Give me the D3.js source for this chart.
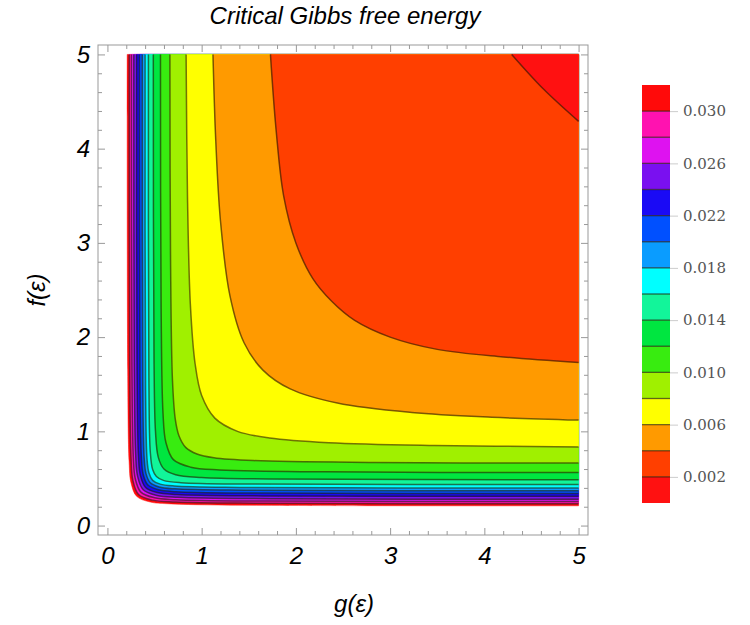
<!DOCTYPE html>
<html><head><meta charset="utf-8">
<script src="https://cdn.jsdelivr.net/npm/d3@7"></script>
<style>body{margin:0;background:#fff}</style>
</head><body>
<svg id="chart" width="750" height="625"></svg>
<script>
// contour levels (upper bound of each band)
const levels = [0.002,0.004,0.006,0.008,0.010,0.012,0.014,0.016,0.018,0.020,0.022,0.024,0.026,0.028,0.030,0.032];
// band colours, band i = [levels[i]-0.002, levels[i]]
const bandColors = ["#ff1111","#ff3f00","#ff9a00","#ffff00","#a0f000","#38ec10","#00e640","#12f59a","#00ffff","#0a9cff","#0050ff","#1a0af5","#7a10f0","#de12f0","#ff12b0","#ff0a0a"];
// contour lines, points (g, f)
const c002 = [[4.29,5],[4.63,4.63],[5,4.29]];
const c004 = [[1.73,5],[1.79,4.2],[1.87,3.5],[2.0,3.0],[2.18,2.62],[2.38,2.38],[2.62,2.18],[3.0,2.0],[3.5,1.87],[4.2,1.79],[5,1.73]];
const c006 = [[1.12,5],[1.15,4.08],[1.2,3.23],[1.3,2.44],[1.45,1.94],[1.65,1.65],[1.94,1.45],[2.44,1.3],[3.23,1.2],[4.08,1.15],[5,1.12]];
const c008 = [[0.835,5],[0.85,3.47],[0.88,2.35],[0.93,1.72],[1.0,1.38],[1.14,1.14],[1.38,1.0],[1.72,0.93],[2.35,0.88],[3.47,0.85],[5,0.835]];
const c010 = [[0.663,5],[0.67,2.82],[0.69,1.55],[0.72,1.13],[0.76,0.95],[0.83,0.83],[0.95,0.76],[1.13,0.72],[1.55,0.69],[2.82,0.67],[5,0.663]];
const c012 = [[0.563,5],[0.57,2.3],[0.59,1.19],[0.62,0.884],[0.70,0.70],[0.884,0.62],[1.19,0.59],[2.3,0.57],[5,0.563]];
const c014 = [[0.487,5],[0.495,1.71],[0.51,1.0],[0.54,0.724],[0.6,0.6],[0.724,0.54],[1.0,0.51],[1.71,0.495],[5,0.487]];
const c016 = [[0.435,5],[0.44,1.57],[0.455,0.78],[0.48,0.594],[0.52,0.52],[0.594,0.48],[0.78,0.455],[1.57,0.44],[5,0.435]];
const c018 = [[0.40,5],[0.405,1.44],[0.42,0.71],[0.44,0.56],[0.48,0.48],[0.56,0.44],[0.71,0.42],[1.44,0.405],[5,0.40]];
const c020 = [[0.37,5],[0.375,1.5],[0.39,0.716],[0.41,0.549],[0.455,0.455],[0.549,0.41],[0.716,0.39],[1.5,0.375],[5,0.37]];
const c022 = [[0.34,5],[0.345,1.58],[0.36,0.727],[0.38,0.54],[0.43,0.43],[0.54,0.38],[0.727,0.36],[1.58,0.345],[5,0.34]];
const c024 = [[0.31,5],[0.315,1.65],[0.33,0.735],[0.35,0.532],[0.405,0.405],[0.532,0.35],[0.735,0.33],[1.65,0.315],[5,0.31]];
const c026 = [[0.28,5],[0.285,1.73],[0.30,0.749],[0.32,0.525],[0.38,0.38],[0.525,0.32],[0.749,0.30],[1.73,0.285],[5,0.28]];
const c028 = [[0.255,5],[0.26,1.70],[0.275,0.724],[0.295,0.50],[0.355,0.355],[0.50,0.295],[0.724,0.275],[1.70,0.26],[5,0.255]];
const c030 = [[0.232,5],[0.237,1.64],[0.25,0.727],[0.27,0.479],[0.33,0.33],[0.479,0.27],[0.727,0.25],[1.64,0.237],[5,0.232]];
const c032 = [[0.21,5],[0.215,1.66],[0.23,0.678],[0.25,0.455],[0.31,0.31],[0.455,0.25],[0.678,0.23],[1.66,0.215],[5,0.21]];
const contours = [c002,c004,c006,c008,c010,c012,c014,c016,c018,c020,c022,c024,c026,c028,c030,c032];
const majorTicks = [0,1,2,3,4,5];
const minorTicks = d3.range(-0.0, 5.01, 0.2).filter(v => Math.abs(v - Math.round(v)) > 1e-6);
const legendTicks = [0.002,0.006,0.010,0.014,0.018,0.022,0.026,0.030];
const corner = [5,5];

const svg = d3.select("#chart");
const x = d3.scaleLinear().domain([-0.1,5.1]).range([98,588]);
const y = d3.scaleLinear().domain([-0.1,5.1]).range([535,45]);

const line = d3.line().x(d => x(d[0])).y(d => y(d[1])).curve(d3.curveCatmullRom.alpha(0.5));

const plot = svg.append("g");
// fills: paint region {z < L} for descending L
for (let i = levels.length - 1; i >= 0; i--) {
  const p = line(contours[i]) + "L" + x(corner[0]) + "," + y(corner[1]) + "Z";
  plot.append("path").attr("d", p).attr("fill", bandColors[i]).attr("stroke", bandColors[i]).attr("stroke-width", 0.5);
}
// contour lines
for (let i = 0; i < levels.length - 1; i++) {
  plot.append("path").attr("d", line(contours[i])).attr("fill", "none")
    .attr("stroke", "rgba(35,25,0,0.6)").attr("stroke-width", 1.5);
}

// frame
svg.append("rect").attr("x", 98).attr("y", 45).attr("width", 490).attr("height", 490)
  .attr("fill", "none").attr("stroke", "#999").attr("stroke-width", 1);

function styleAxis(g) {
  g.select(".domain").remove();
  g.selectAll(".tick line").attr("stroke", "#999");
  g.selectAll(".tick text").attr("font-family", "Liberation Sans, Arial, sans-serif")
    .attr("font-style", "italic").attr("font-size", 24).attr("fill", "#000");
}
const fmt = d3.format("d");
svg.append("g").attr("transform", "translate(0,535)")
  .call(d3.axisBottom(x).tickValues(majorTicks).tickSize(-7).tickPadding(12).tickFormat(fmt)).call(styleAxis);
svg.append("g").attr("transform", "translate(0,535)")
  .call(d3.axisBottom(x).tickValues(minorTicks).tickSize(-4).tickFormat("")).call(styleAxis);
svg.append("g").attr("transform", "translate(0,45)")
  .call(d3.axisTop(x).tickValues(majorTicks).tickSize(-7).tickFormat("")).call(styleAxis);
svg.append("g").attr("transform", "translate(0,45)")
  .call(d3.axisTop(x).tickValues(minorTicks).tickSize(-4).tickFormat("")).call(styleAxis);
svg.append("g").attr("transform", "translate(98,0)")
  .call(d3.axisLeft(y).tickValues(majorTicks).tickSize(-7).tickPadding(8).tickFormat(fmt)).call(styleAxis);
svg.append("g").attr("transform", "translate(98,0)")
  .call(d3.axisLeft(y).tickValues(minorTicks).tickSize(-4).tickFormat("")).call(styleAxis);
svg.append("g").attr("transform", "translate(588,0)")
  .call(d3.axisRight(y).tickValues(majorTicks).tickSize(-7).tickFormat("")).call(styleAxis);
svg.append("g").attr("transform", "translate(588,0)")
  .call(d3.axisRight(y).tickValues(minorTicks).tickSize(-4).tickFormat("")).call(styleAxis);

// titles
const tfont = "Liberation Sans, Arial, sans-serif";
svg.append("text").attr("x", 345).attr("y", 24).attr("text-anchor", "middle")
  .attr("font-family", tfont).attr("font-style", "italic").attr("font-size", 24).text("Critical Gibbs free energy");
svg.append("text").attr("x", 354).attr("y", 612).attr("text-anchor", "middle")
  .attr("font-family", tfont).attr("font-style", "italic").attr("font-size", 24).text("g(ε)");
svg.append("text").attr("transform", "translate(45,290) rotate(-90)").attr("text-anchor", "middle")
  .attr("font-family", tfont).attr("font-style", "italic").attr("font-size", 24).text("f(ε)");

// legend
const ly = d3.scaleLinear().domain([0, 0.032]).range([503, 85]);
const leg = svg.append("g");
levels.forEach((L, i) => {
  leg.append("rect").attr("x", 642).attr("width", 28)
    .attr("y", ly(L)).attr("height", ly(L - 0.002) - ly(L)).attr("fill", bandColors[i]);
});
levels.slice(0, -1).forEach(L => {
  leg.append("line").attr("x1", 642).attr("x2", 670).attr("y1", ly(L)).attr("y2", ly(L))
    .attr("stroke", "rgba(35,25,0,0.65)").attr("stroke-width", 1.3);
});
const lax = svg.append("g").attr("transform", "translate(670,0)")
  .call(d3.axisRight(ly).tickValues(legendTicks).tickSize(8).tickPadding(5).tickFormat(d3.format(".3f")));
lax.select(".domain").remove();
lax.selectAll(".tick line").attr("stroke", "#ccc");
lax.selectAll(".tick text").attr("font-family", "DejaVu Serif, Liberation Serif, serif")
  .attr("font-size", 15).attr("fill", "#555");
</script>
</body></html>
